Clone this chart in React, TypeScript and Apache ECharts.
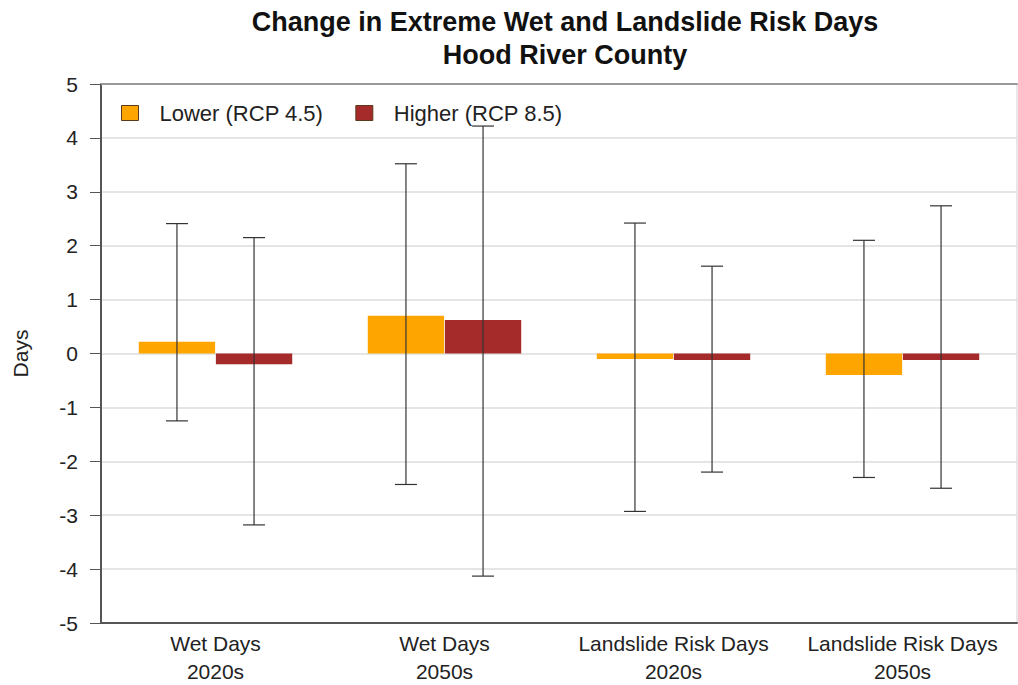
import React, { useEffect, useRef } from "react";
import * as echarts from "echarts";

const categories = ["Wet Days\n2020s", "Wet Days\n2050s", "Landslide Risk Days\n2020s", "Landslide Risk Days\n2050s"];
const seriesNames = ["Lower (RCP 4.5)", "Higher (RCP 8.5)"];
const lowerValues = [0.22, 0.7, -0.1, -0.4];
const higherValues = [-0.2, 0.62, -0.12, -0.12];
const lowerErrLow = [-1.25, -2.43, -2.93, -2.3];
const lowerErrHigh = [2.41, 3.52, 2.42, 2.1];
const higherErrLow = [-3.18, -4.13, -2.2, -2.5];
const higherErrHigh = [2.15, 4.22, 1.62, 2.74];
const colors = ["#FFA500", "#A52A2A"];

const CAT_GAP = 0.33;
const BAR_GAP = 0.01;

function errorSeries(name: string, lows: number[], highs: number[], seriesIdx: number) {
  return {
    type: "custom",
    name: name + " range",
    silent: true,
    z: 5,
    encode: { x: 0, y: [1, 2] },
    data: lows.map((l, i) => [i, l, highs[i]]),
    renderItem: (params: any, api: any) => {
      const idx = api.value(0);
      const band = api.size([1, 0])[0];
      const total = band * (1 - CAT_GAP);
      const bw = total / (2 + BAR_GAP);
      const center = api.coord([idx, 0])[0];
      const x = center - total / 2 + bw / 2 + seriesIdx * bw * (1 + BAR_GAP);
      const yl = api.coord([idx, api.value(1)])[1];
      const yh = api.coord([idx, api.value(2)])[1];
      const cap = 11;
      const style = { stroke: "#333", lineWidth: 1.2 };
      return {
        type: "group",
        children: [
          { type: "line", shape: { x1: x, y1: yl, x2: x, y2: yh }, style },
          { type: "line", shape: { x1: x - cap, y1: yl, x2: x + cap, y2: yl }, style },
          { type: "line", shape: { x1: x - cap, y1: yh, x2: x + cap, y2: yh }, style },
        ],
      };
    },
  };
}

export default function App() {
  const ref = useRef<HTMLDivElement>(null);
  useEffect(() => {
    if (!ref.current) return;
    const chart = echarts.init(ref.current, undefined, { renderer: "svg" });
    const font = "'Liberation Sans', Arial, sans-serif";
    chart.setOption({
      animation: false,
      backgroundColor: "#fff",
      textStyle: { fontFamily: font },
      title: {
        text: "Change in Extreme Wet and Landslide Risk Days\nHood River County",
        left: 560,
        textAlign: "center",
        top: 0,
        textStyle: { fontSize: 27, fontWeight: "bold", color: "#111", lineHeight: 33, fontFamily: font },
      },
      legend: {
        left: 116,
        top: 97,
        itemWidth: 17,
        itemHeight: 15,
        itemGap: 32,
        icon: "rect",
        textStyle: { fontSize: 22, color: "#222", padding: [0, 0, 0, 16] },
        data: seriesNames.map((n, i) => ({ name: n, itemStyle: { color: colors[i], borderColor: "#5a3a1a", borderWidth: 1 } })),
      },
      grid: {
        left: 101,
        right: 1,
        top: 84,
        bottom: 61,
        show: true,
        borderColor: "#d0d0d0",
        borderWidth: 1,
      },
      xAxis: [
        {
          type: "category",
          data: categories,
          axisLine: { onZero: false, lineStyle: { color: "#555", width: 2 } },
          axisTick: { show: false },
          axisLabel: { fontSize: 21, color: "#222", lineHeight: 28, margin: 6, interval: 0 },
        },
        {
          type: "category",
          data: categories,
          position: "top",
          axisLine: { onZero: false, lineStyle: { color: "#999", width: 2 } },
          axisTick: { show: false },
          axisLabel: { show: false },
        },
      ],
      yAxis: {
        type: "value",
        min: -5,
        max: 5,
        interval: 1,
        name: "Days",
        nameLocation: "middle",
        nameGap: 70,
        nameTextStyle: { fontSize: 21, color: "#222" },
        axisLine: { show: true, lineStyle: { color: "#555", width: 2 } },
        axisTick: { show: true, length: 11, lineStyle: { color: "#555" } },
        axisLabel: { fontSize: 21, color: "#222", margin: 23 },
        splitLine: { lineStyle: { color: "#dcdcdc", width: 1.5 } },
      },
      series: [
        {
          type: "bar",
          name: seriesNames[0],
          data: lowerValues,
          barCategoryGap: "33%",
          barGap: "1%",
          itemStyle: { color: colors[0] },
        },
        {
          type: "bar",
          name: seriesNames[1],
          data: higherValues,
          barCategoryGap: "33%",
          barGap: "1%",
          itemStyle: { color: colors[1] },
        },
        errorSeries(seriesNames[0], lowerErrLow, lowerErrHigh, 0),
        errorSeries(seriesNames[1], higherErrLow, higherErrHigh, 1),
      ],
    });
    return () => chart.dispose();
  }, []);
  return <div ref={ref} style={{ position: "fixed", left: 0, top: 0, width: 1018, height: 685 }} />;
}
